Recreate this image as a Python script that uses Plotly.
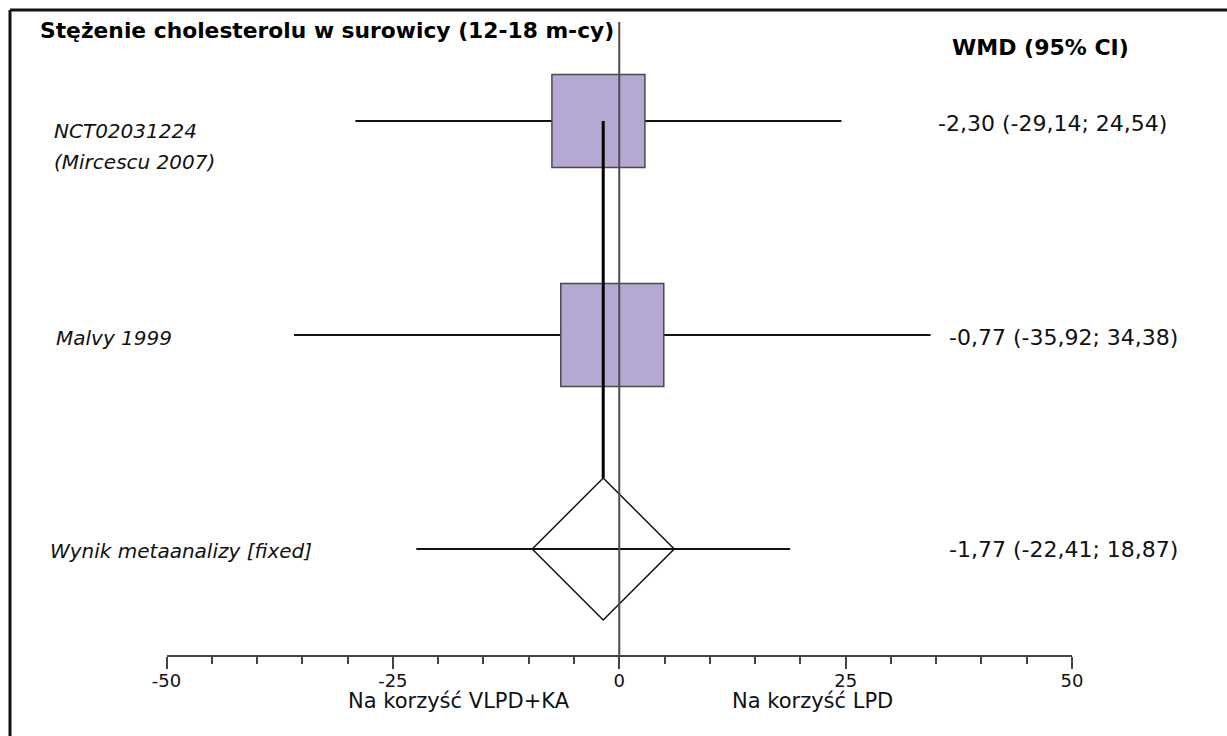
import plotly.graph_objects as go

# ---- data ----
study_labels = [["NCT02031224", "(Mircescu 2007)"], ["Malvy 1999"]]
study_wmd = [-2.30, -0.77]
study_ci_low = [-29.14, -35.92]
study_ci_high = [24.54, 34.38]

pooled_label = "Wynik metaanalizy [fixed]"
pooled_wmd = -1.77
pooled_ci_low = -22.41
pooled_ci_high = 18.87

tick_values = [-50, -25, 0, 25, 50]
favours_labels = ["Na korzyść VLPD+KA", "Na korzyść LPD"]
title_text = "Stężenie cholesterolu w surowicy (12-18 m-cy)"
header_text = "WMD (95% CI)"

# ---- geometry (pixels) ----
W, H = 1227, 736
AX_X0_PX, AX_X1_PX = 166.5, 1072.0      # where -50 and 50 sit
AXIS_Y_PX = 655.7
ROW0_PX, ROW_STEP_PX = 121.0, 214.0
BOX_PX = [93, 103]
DIAMOND_HALF_PX = 71
ZERO_TOP_PX = 22
FONT = "DejaVu Sans"

ux = 100.0 / (AX_X1_PX - AX_X0_PX)   # data units per px (x)
uy = 1.0 / ROW_STEP_PX                # rows per px (y)
y_top = -ROW0_PX * uy
y_bot = (H - ROW0_PX) * uy
axis_row = (AXIS_Y_PX - ROW0_PX) * uy


def fmt(v):
    return f"{v:.2f}".replace(".", ",")


def ci_text(m, lo, hi):
    return f"{fmt(m)} ({fmt(lo)}; {fmt(hi)})"


fig = go.Figure()
shapes = []
annotations = []

n = len(study_wmd)
pooled_row = n

# confidence interval lines
for i in range(n):
    fig.add_trace(go.Scatter(
        x=[study_ci_low[i], study_ci_high[i]], y=[i, i], mode="lines",
        line=dict(color="#111111", width=1.8), hoverinfo="skip", showlegend=False))
fig.add_trace(go.Scatter(
    x=[pooled_ci_low, pooled_ci_high], y=[pooled_row, pooled_row], mode="lines",
    line=dict(color="#111111", width=1.8), hoverinfo="skip", showlegend=False))

# pooled diamond
dx = DIAMOND_HALF_PX * ux
dy = DIAMOND_HALF_PX * uy
fig.add_trace(go.Scatter(
    x=[pooled_wmd - dx, pooled_wmd, pooled_wmd + dx, pooled_wmd, pooled_wmd - dx],
    y=[pooled_row, pooled_row - dy, pooled_row, pooled_row + dy, pooled_row],
    mode="lines", line=dict(color="#111111", width=1.5),
    hoverinfo="skip", showlegend=False))

# study squares
for i in range(n):
    hx = BOX_PX[i] / 2 * ux
    hy = BOX_PX[i] / 2 * uy
    shapes.append(dict(
        type="rect", xref="x", yref="y",
        x0=study_wmd[i] - hx, x1=study_wmd[i] + hx, y0=i - hy, y1=i + hy,
        fillcolor="#b5a8d2", line=dict(color="#4a4a4a", width=1.5), layer="above"))

# line of no effect
shapes.append(dict(
    type="line", xref="x", yref="y", x0=0, x1=0,
    y0=ZERO_TOP_PX * uy + y_top, y1=axis_row,
    line=dict(color="#4d4d4d", width=2), layer="above"))

# pooled estimate line
shapes.append(dict(
    type="line", xref="x", yref="y", x0=pooled_wmd, x1=pooled_wmd,
    y0=0, y1=pooled_row - dy,
    line=dict(color="#000000", width=3), layer="above"))

# frame (left and top edges)
shapes.append(dict(type="line", xref="paper", yref="paper",
                   x0=10 / W, x1=10 / W, y0=0, y1=1 - 10 / H,
                   line=dict(color="#111111", width=3)))
shapes.append(dict(type="line", xref="paper", yref="paper",
                   x0=10 / W, x1=1, y0=1 - 10 / H, y1=1 - 10 / H,
                   line=dict(color="#111111", width=3)))

label_font = dict(family=FONT, size=20, color="#111111")
value_font = dict(family=FONT, size=22, color="#111111")
left_x_px = [52, 54]
right_x_px = [936, 947]

# study labels
for i in range(n):
    lines = study_labels[i]
    for j, line in enumerate(lines):
        shift = 3 if len(lines) == 1 else (10 + 31 * j)
        annotations.append(dict(
            x=left_x_px[i] / W, xref="paper", y=i, yref="y", yshift=-shift,
            text=f"<i>{line}</i>", showarrow=False, xanchor="left", yanchor="middle",
            font=label_font))
    annotations.append(dict(
        x=right_x_px[i] / W, xref="paper", y=i, yref="y", yshift=-2,
        text=ci_text(study_wmd[i], study_ci_low[i], study_ci_high[i]),
        showarrow=False, xanchor="left", yanchor="middle", font=value_font))

annotations.append(dict(
    x=48 / W, xref="paper", y=pooled_row, yref="y", yshift=-2,
    text=f"<i>{pooled_label}</i>", showarrow=False, xanchor="left", yanchor="middle",
    font=label_font))
annotations.append(dict(
    x=947 / W, xref="paper", y=pooled_row, yref="y", yshift=0,
    text=ci_text(pooled_wmd, pooled_ci_low, pooled_ci_high),
    showarrow=False, xanchor="left", yanchor="middle", font=value_font))

# headers
annotations.append(dict(
    x=38 / W, xref="paper", y=1 - 30 / H, yref="paper",
    text=f"<b>{title_text}</b>", showarrow=False, xanchor="left", yanchor="middle",
    font=dict(family=FONT, size=21.8, color="#000000")))
annotations.append(dict(
    x=950 / W, xref="paper", y=1 - 47 / H, yref="paper",
    text=f"<b>{header_text}</b>", showarrow=False, xanchor="left", yanchor="middle",
    font=dict(family=FONT, size=22, color="#000000")))

# favour labels under the axis
for txt, cx in zip(favours_labels, [459, 812]):
    annotations.append(dict(
        x=cx / W, xref="paper", y=1 - 701 / H, yref="paper",
        text=txt, showarrow=False, xanchor="center", yanchor="middle",
        font=dict(family=FONT, size=21, color="#111111")))

fig.update_layout(
    template="none",
    width=W, height=H, autosize=False,
    margin=dict(l=0, r=0, t=0, b=0, pad=0),
    paper_bgcolor="white", plot_bgcolor="white",
    showlegend=False,
    shapes=shapes, annotations=annotations,
    xaxis=dict(
        domain=[AX_X0_PX / W, AX_X1_PX / W], range=[-50, 50],
        anchor="free", position=1 - AXIS_Y_PX / H, automargin=False,
        showline=True, linecolor="#444444", linewidth=2,
        ticks="outside", ticklen=12, tickwidth=2, tickcolor="#444444",
        tickvals=tick_values, ticktext=[str(v) for v in tick_values],
        tickfont=dict(family=FONT, size=18, color="#111111"),
        ticklabelstandoff=-3,
        minor=dict(dtick=5, ticks="outside", ticklen=7, tickwidth=1.5, tickcolor="#444444"),
        showgrid=False, zeroline=False, fixedrange=True),
    yaxis=dict(domain=[0, 1], range=[y_bot, y_top], visible=False,
               automargin=False, fixedrange=True),
)

fig.write_html("out.html", post_script="document.body.style.margin='0';")
